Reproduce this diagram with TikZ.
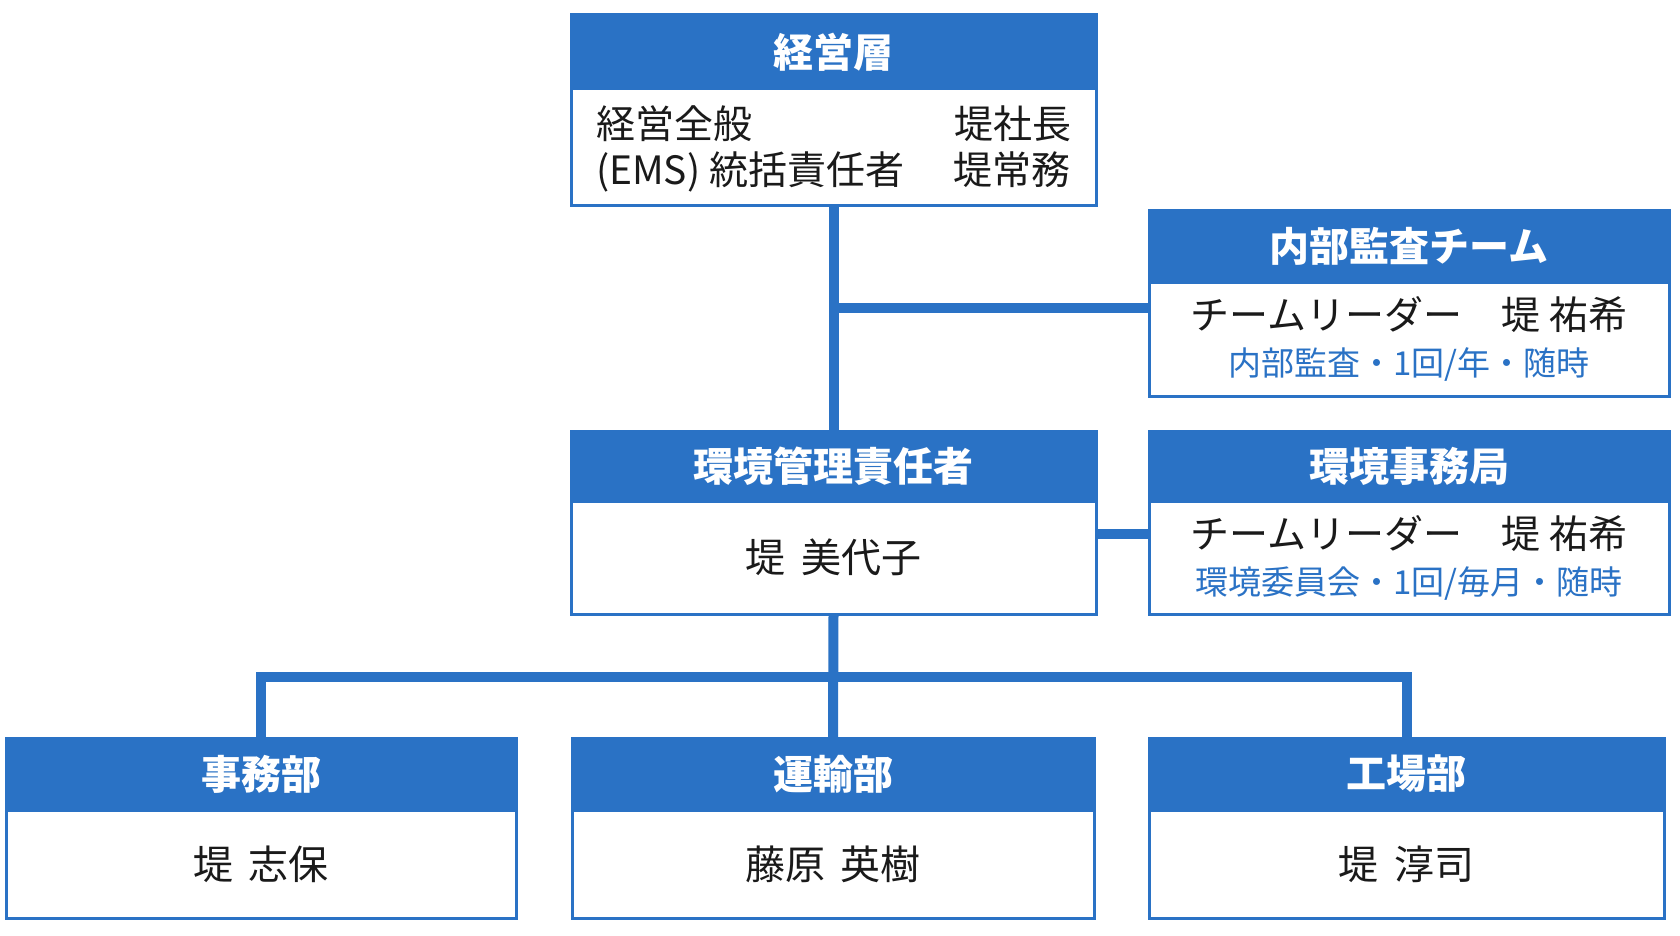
\documentclass[tikz,border=0pt]{standalone}
\usepackage{fontspec}
\setmainfont{Noto Sans CJK JP}
\usepackage{xcolor}
\usetikzlibrary{positioning}
\definecolor{emsblue}{HTML}{2A72C5}
\definecolor{emsink}{HTML}{1A1A1A}

\begin{document}
\begin{tikzpicture}[x=0.5pt, y=-0.5pt,
    head/.style={rectangle, draw=emsblue, fill=emsblue, line width=1.5pt,
                 inner sep=0pt, outer sep=0pt, anchor=north west, text=white,
                 font=\bfseries\fontsize{20pt}{24pt}\selectfont},
    body/.style={rectangle, draw=emsblue, fill=white, line width=1.5pt,
                 inner sep=0pt, outer sep=0pt, align=center, text=emsink,
                 font=\fontsize{19.5pt}{24pt}\selectfont},
    person/.style={body, font=\fontsize{20pt}{24pt}\selectfont},
    link/.style={draw=emsblue, line width=5pt}]
  \useasboundingbox (0,0) rectangle (1680,936);
  % top management
  \node[head, minimum width=262.5pt, minimum height=37pt] (topH) at (571,15) {経営層};
  \node[body, below=0pt of topH, minimum width=262.5pt, minimum height=58.5pt,
        font=\fontsize{19.5pt}{22.5pt}\selectfont] (topB)
    {\raisebox{-2pt}[\height][\depth]{\begin{tabular}{@{}l@{\hspace{25pt}}l@{}}
       経営全般 & 堤社長\\
       (EMS) 統括責任者 & 堤常務
     \end{tabular}}};
  % internal audit
  \node[head, minimum width=260pt, minimum height=35.5pt] (auditH) at (1149,211) {内部監査チーム};
  \node[body, below=0pt of auditH, minimum width=260pt, minimum height=57pt] (auditB)
    {チームリーダー　堤 祐希\\[-1pt]{\color{emsblue}\fontsize{16.5pt}{20pt}\selectfont 内部監査・1回/年・随時}};
  % environmental manager
  \node[head, minimum width=262.5pt, minimum height=35pt] (mgrH) at (571,431) {環境管理責任者};
  \node[person, below=0pt of mgrH, minimum width=262.5pt, minimum height=56.5pt] (mgrB) {堤\hspace{0.4em}美代子};
  % secretariat
  \node[head, minimum width=260pt, minimum height=35pt] (officeH) at (1149,431) {環境事務局};
  \node[body, below=0pt of officeH, minimum width=260pt, minimum height=56.5pt] (officeB)
    {チームリーダー　堤 祐希\\[-1pt]{\color{emsblue}\fontsize{16.5pt}{20pt}\selectfont 環境委員会・1回/毎月・随時}};
  % departments
  \node[head, minimum width=255pt, minimum height=36pt] (jimuH) at (6,738) {事務部};
  \node[person, below=0pt of jimuH, minimum width=255pt, minimum height=54pt] (jimuB) {堤\hspace{0.4em}志保};
  \node[head, minimum width=261pt, minimum height=36pt] (unyuH) at (572,738) {運輸部};
  \node[person, below=0pt of unyuH, minimum width=261pt, minimum height=54pt] (unyuB) {藤原\hspace{0.4em}英樹};
  \node[head, minimum width=257.5pt, minimum height=36pt] (kojoH) at (1149,738) {工場部};
  \node[person, below=0pt of kojoH, minimum width=257.5pt, minimum height=54pt] (kojoB) {堤\hspace{0.4em}淳司};
  % connectors
  \coordinate (jAudit) at (833.25,307.5);
  \coordinate (jOffice) at (1096,534);
  \coordinate (bus) at (833.25,677);
  \draw[link] (topB.south) -- (mgrH.north);
  \draw[link] (jAudit) -- (jAudit -| auditB.west);
  \draw[link] (jOffice) -- (jOffice -| officeB.west);
  \draw[link] (mgrB.south) -- (unyuH.north);
  \draw[link] (jimuH.north) |- (bus) -| (kojoH.north);
\end{tikzpicture}
\end{document}
